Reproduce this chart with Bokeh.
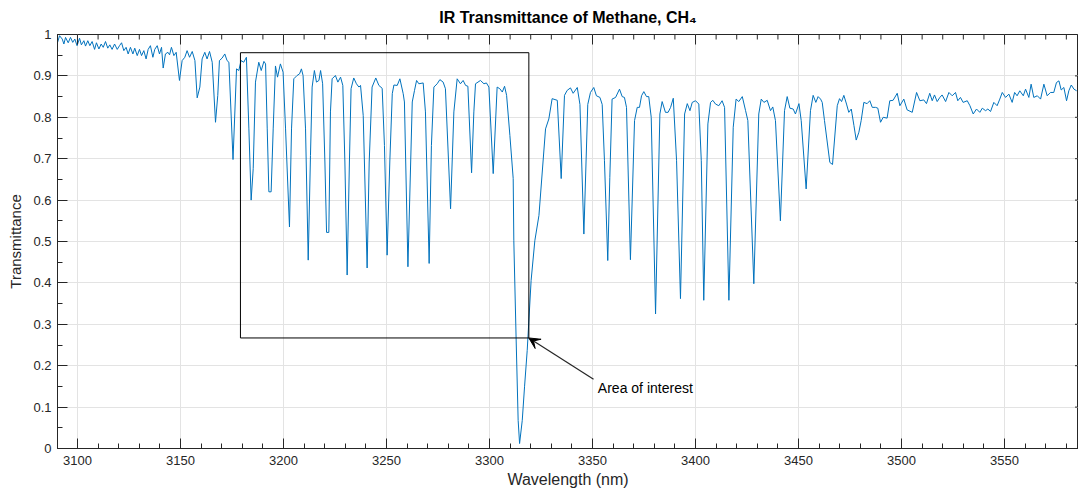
import numpy as np
from bokeh.plotting import figure
from bokeh.models import (Range1d, SingleIntervalTicker, NumeralTickFormatter,
                          BoxAnnotation, Arrow, VeeHead, Label)
from bokeh.embed import file_html
from bokeh.resources import INLINE

# ---- data ----
wavelength_nm = [
    3090.1, 3091.3, 3092.6, 3093.4, 3094.2, 3095.5, 3096.6, 3097.7, 3098.7, 3099.8,
    3101.0, 3101.9, 3103.1, 3103.9, 3105.0, 3106.0, 3107.1, 3108.3, 3109.2, 3110.4,
    3111.5, 3112.5, 3113.6, 3114.7, 3115.7, 3116.8, 3118.0, 3119.3, 3120.4, 3121.4,
    3122.5, 3123.6, 3124.6, 3125.7, 3126.9, 3127.8, 3129.0, 3130.1, 3131.1, 3132.2,
    3133.3, 3134.3, 3135.4, 3136.6, 3137.5, 3138.7, 3139.8, 3140.8, 3141.6, 3142.7,
    3143.9, 3144.7, 3145.6, 3146.8, 3147.9, 3149.5, 3150.8, 3152.1, 3153.2, 3154.4,
    3155.7, 3157.0, 3158.1, 3159.4, 3160.5, 3161.8, 3162.9, 3164.1, 3165.4, 3167.0,
    3168.1, 3168.9, 3170.2, 3171.5, 3172.6, 3173.5, 3175.5, 3177.2, 3178.3, 3179.4,
    3180.7, 3182.0, 3183.2, 3184.3, 3185.3, 3186.4, 3188.0, 3189.2, 3190.5, 3191.3,
    3192.1, 3192.9, 3194.0, 3195.0, 3196.1, 3197.1, 3198.5, 3199.8, 3201.0, 3202.9,
    3203.9, 3205.0, 3206.6, 3207.8, 3208.7, 3209.5, 3210.7, 3212.0, 3213.1, 3213.9,
    3215.0, 3216.0, 3217.2, 3218.0, 3219.0, 3220.1, 3220.9, 3222.0, 3222.8, 3223.6,
    3225.2, 3226.4, 3227.7, 3228.8, 3229.8, 3230.9, 3232.0, 3232.8, 3234.1, 3235.4,
    3236.6, 3237.4, 3238.7, 3240.6, 3241.6, 3243.0, 3244.8, 3246.3, 3247.9, 3249.0,
    3250.3, 3251.6, 3252.8, 3253.6, 3255.2, 3256.5, 3258.1, 3258.7, 3260.4, 3262.5,
    3263.6, 3264.6, 3265.7, 3267.8, 3268.9, 3270.7, 3271.8, 3273.0, 3274.6, 3275.9,
    3277.5, 3278.6, 3281.1, 3282.7, 3284.3, 3285.9, 3287.2, 3288.4, 3289.5, 3291.3,
    3292.4, 3293.2, 3295.6, 3297.3, 3298.5, 3299.7, 3301.8, 3303.7, 3305.0, 3306.2,
    3307.3, 3308.3, 3309.9, 3311.5, 3311.8, 3312.9, 3313.9, 3314.6, 3315.9, 3317.0,
    3318.3, 3320.2, 3322.0, 3324.0, 3327.2, 3328.8, 3330.4, 3332.9, 3334.8, 3336.4,
    3337.7, 3339.3, 3340.6, 3342.6, 3343.9, 3345.8, 3347.7, 3349.0, 3350.6, 3351.9,
    3353.6, 3354.7, 3355.8, 3357.4, 3358.4, 3359.5, 3361.2, 3363.1, 3364.4, 3365.5,
    3366.5, 3368.4, 3370.4, 3371.7, 3372.8, 3373.8, 3374.9, 3376.2, 3377.3, 3378.5,
    3380.6, 3382.7, 3383.8, 3385.4, 3386.7, 3387.9, 3389.2, 3390.8, 3392.7, 3394.7,
    3396.0, 3397.3, 3398.4, 3400.0, 3401.6, 3402.8, 3404.0, 3406.0, 3407.3, 3408.4,
    3409.7, 3411.3, 3412.9, 3414.1, 3416.2, 3418.3, 3419.7, 3421.0, 3422.7, 3424.3,
    3425.4, 3428.3, 3430.7, 3431.9, 3433.2, 3434.8, 3436.4, 3437.5, 3438.8, 3441.2,
    3443.2, 3444.5, 3445.8, 3447.4, 3448.5, 3450.2, 3451.3, 3453.7, 3455.8, 3457.1,
    3458.4, 3459.5, 3460.7, 3461.5, 3462.6, 3465.2, 3466.5, 3468.8, 3469.9, 3470.9,
    3472.0, 3473.3, 3474.4, 3475.6, 3476.9, 3478.0, 3479.3, 3480.4, 3481.7, 3483.3,
    3484.6, 3485.8, 3487.4, 3488.5, 3489.8, 3491.1, 3493.0, 3494.3, 3495.9, 3497.9,
    3499.2, 3501.1, 3502.7, 3505.2, 3507.3, 3508.9, 3510.8, 3512.1, 3513.7, 3514.9,
    3516.0, 3517.3, 3518.6, 3519.7, 3521.4, 3523.0, 3524.6, 3526.2, 3527.3, 3528.6,
    3529.9, 3531.9, 3533.2, 3534.8, 3536.4, 3538.0, 3539.2, 3540.8, 3541.9, 3543.2,
    3544.8, 3546.4, 3547.7, 3548.9, 3550.5, 3552.1, 3553.7, 3554.9, 3556.1, 3557.4,
    3559.1, 3560.2, 3561.8, 3562.9, 3564.2, 3565.9, 3567.5, 3569.1, 3570.7, 3572.3,
    3573.9, 3575.2, 3576.4, 3577.5, 3578.8, 3580.1, 3581.2, 3582.4, 3583.7, 3585.0,
]
transmittance = [
    0.977, 0.997, 0.989, 0.977, 0.993, 0.980, 0.993, 0.981, 0.989, 0.973,
    0.991, 0.975, 0.985, 0.972, 0.985, 0.973, 0.983, 0.964, 0.980, 0.965,
    0.977, 0.969, 0.983, 0.967, 0.975, 0.964, 0.977, 0.964, 0.973, 0.980,
    0.961, 0.969, 0.953, 0.969, 0.953, 0.967, 0.949, 0.964, 0.949, 0.961,
    0.941, 0.964, 0.973, 0.945, 0.964, 0.973, 0.953, 0.969, 0.919, 0.953,
    0.957, 0.951, 0.969, 0.949, 0.957, 0.889, 0.937, 0.945, 0.961, 0.945,
    0.959, 0.937, 0.847, 0.873, 0.941, 0.957, 0.941, 0.959, 0.933, 0.788,
    0.853, 0.937, 0.943, 0.953, 0.937, 0.933, 0.698, 0.917, 0.913, 0.937,
    0.933, 0.945, 0.772, 0.600, 0.676, 0.885, 0.933, 0.913, 0.935, 0.929,
    0.772, 0.620, 0.620, 0.772, 0.924, 0.897, 0.929, 0.909, 0.772, 0.535,
    0.772, 0.893, 0.901, 0.905, 0.917, 0.901, 0.772, 0.455, 0.708, 0.873,
    0.913, 0.885, 0.889, 0.913, 0.881, 0.692, 0.522, 0.522, 0.813, 0.893,
    0.901, 0.885, 0.897, 0.877, 0.692, 0.419, 0.692, 0.869, 0.895, 0.881,
    0.873, 0.877, 0.804, 0.436, 0.692, 0.873, 0.895, 0.877, 0.870, 0.732,
    0.467, 0.692, 0.857, 0.878, 0.877, 0.893, 0.857, 0.837, 0.439, 0.837,
    0.865, 0.889, 0.881, 0.883, 0.813, 0.447, 0.732, 0.873, 0.881, 0.891,
    0.885, 0.869, 0.579, 0.813, 0.893, 0.881, 0.889, 0.877, 0.875, 0.666,
    0.813, 0.881, 0.889, 0.881, 0.883, 0.873, 0.664, 0.873, 0.869, 0.861,
    0.875, 0.853, 0.756, 0.652, 0.502, 0.269, 0.068, 0.012, 0.068, 0.149,
    0.237, 0.406, 0.502, 0.563, 0.772, 0.796, 0.845, 0.841, 0.652, 0.853,
    0.865, 0.871, 0.858, 0.872, 0.831, 0.518, 0.831, 0.860, 0.872, 0.852,
    0.848, 0.831, 0.695, 0.454, 0.655, 0.844, 0.848, 0.868, 0.850, 0.848,
    0.824, 0.456, 0.792, 0.824, 0.824, 0.852, 0.862, 0.850, 0.850, 0.800,
    0.325, 0.808, 0.838, 0.812, 0.812, 0.824, 0.846, 0.695, 0.362, 0.808,
    0.833, 0.816, 0.836, 0.840, 0.832, 0.695, 0.358, 0.784, 0.836, 0.841,
    0.832, 0.828, 0.840, 0.824, 0.358, 0.776, 0.844, 0.838, 0.850, 0.816,
    0.792, 0.398, 0.808, 0.844, 0.836, 0.841, 0.816, 0.825, 0.792, 0.550,
    0.816, 0.850, 0.822, 0.820, 0.808, 0.833, 0.792, 0.627, 0.816, 0.853,
    0.836, 0.850, 0.844, 0.836, 0.792, 0.691, 0.686, 0.828, 0.845, 0.838,
    0.853, 0.832, 0.812, 0.820, 0.780, 0.745, 0.764, 0.792, 0.836, 0.833,
    0.840, 0.824, 0.824, 0.822, 0.788, 0.800, 0.798, 0.840, 0.841, 0.858,
    0.828, 0.844, 0.818, 0.812, 0.860, 0.840, 0.842, 0.833, 0.858, 0.840,
    0.854, 0.838, 0.848, 0.854, 0.838, 0.860, 0.852, 0.860, 0.840, 0.848,
    0.836, 0.840, 0.828, 0.808, 0.820, 0.812, 0.822, 0.816, 0.820, 0.814,
    0.836, 0.828, 0.844, 0.860, 0.848, 0.856, 0.836, 0.860, 0.852, 0.864,
    0.852, 0.868, 0.848, 0.880, 0.848, 0.852, 0.844, 0.880, 0.852, 0.860,
    0.860, 0.884, 0.888, 0.866, 0.872, 0.840, 0.864, 0.878, 0.868, 0.864,
]

# axis limits and tick spacing
x_lim = [3090.3, 3585.9]
y_lim = [0.0, 1.0]
x_major_step, x_minor_step = 50, 10
y_major_step = 0.1

# annotation (area of interest rectangle and arrow)
box_x = [3179.1, 3319.1]
box_y = [0.267, 0.956]
arrow_from = (3350.5, 0.167)
arrow_to = (3319.1, 0.267)
note_text = "Area of interest"
note_pos = (3352.6, 0.146)

title_text = "IR Transmittance of Methane, CH\u2084"
x_label = "Wavelength (nm)"
y_label = "Transmittance"

FONT = "Liberation Sans"
AX = "#262626"
LINE = "#0072BD"

p = figure(width=1078, height=492, output_backend="svg", toolbar_location=None,
           x_range=Range1d(*x_lim), y_range=Range1d(*y_lim),
           min_border_left=57, min_border_right=0, min_border_top=34, min_border_bottom=44,
           x_axis_label=x_label, y_axis_label=y_label)
p.background_fill_color = "white"
p.border_fill_color = "white"
p.outline_line_color = AX
p.outline_line_width = 1

p.title.text = title_text
p.title.align = "center"
p.title.vertical_align = "top"
p.title.text_font = FONT
p.title.text_font_size = "16px"
p.title.text_font_style = "bold"
p.title.text_color = "black"
p.title.standoff = 14

xt = SingleIntervalTicker(interval=x_major_step, num_minor_ticks=5)
yt = SingleIntervalTicker(interval=y_major_step, num_minor_ticks=2)

def style(ax):
    ax.axis_line_color = AX
    ax.major_tick_line_color = AX
    ax.minor_tick_line_color = AX
    ax.major_tick_in = 10
    ax.major_tick_out = 0
    ax.minor_tick_in = 5
    ax.minor_tick_out = 0
    ax.major_label_text_font = FONT
    ax.major_label_text_color = AX
    ax.major_label_text_font_size = "13px"
    ax.axis_label_text_font = FONT
    ax.axis_label_text_color = AX
    ax.axis_label_text_font_style = "normal"

xa = p.xaxis[0]
xa.ticker = xt
style(xa)
xa.axis_label_text_font_size = "16px"
xa.major_label_standoff = 7
xa.axis_label_standoff = 3

ya = p.yaxis[0]
ya.ticker = yt
ya.formatter = NumeralTickFormatter(format="0.[0]")
style(ya)
ya.axis_label_text_font_size = "15px"
ya.major_label_standoff = 6
ya.axis_label_standoff = 6

p.xgrid.ticker = xt
p.ygrid.ticker = yt
p.xgrid.grid_line_color = "#e3e3e3"
p.ygrid.grid_line_color = "#e3e3e3"

p.line(wavelength_nm, transmittance, line_color=LINE, line_width=1.0)

# inward tick marks on the top edge (box on) and stubs on the right edge
top_major = np.arange(3100, x_lim[1], x_major_step)
top_all = np.arange(3100, x_lim[1], x_minor_step)
top_minor = [v for v in top_all if v % x_major_step != 0]
p.scatter(top_major, [y_lim[1]] * len(top_major), marker="dash", angle=np.pi / 2,
          size=20, line_color=AX, line_width=1)
p.scatter(top_minor, [y_lim[1]] * len(top_minor), marker="dash", angle=np.pi / 2,
          size=10, line_color=AX, line_width=1)
right_major = np.round(np.arange(0, 1.0001, y_major_step), 2)
p.scatter([x_lim[1]] * len(right_major), right_major, marker="dash",
          size=7, line_color=AX, line_width=1)

p.add_layout(BoxAnnotation(left=box_x[0], right=box_x[1], bottom=box_y[0], top=box_y[1],
                           fill_alpha=0, line_color="black", line_alpha=1, line_width=1))
p.add_layout(Arrow(end=VeeHead(size=11, fill_color="black", line_color="black"),
                   x_start=arrow_from[0], y_start=arrow_from[1],
                   x_end=arrow_to[0], y_end=arrow_to[1],
                   line_color="#262626", line_width=1.2))
p.add_layout(Label(x=note_pos[0], y=note_pos[1], text=note_text, text_font=FONT,
                   text_font_size="14px", text_color="black", text_baseline="middle",
                   text_align="left"))

open("out.html", "w").write(file_html(p, INLINE))
